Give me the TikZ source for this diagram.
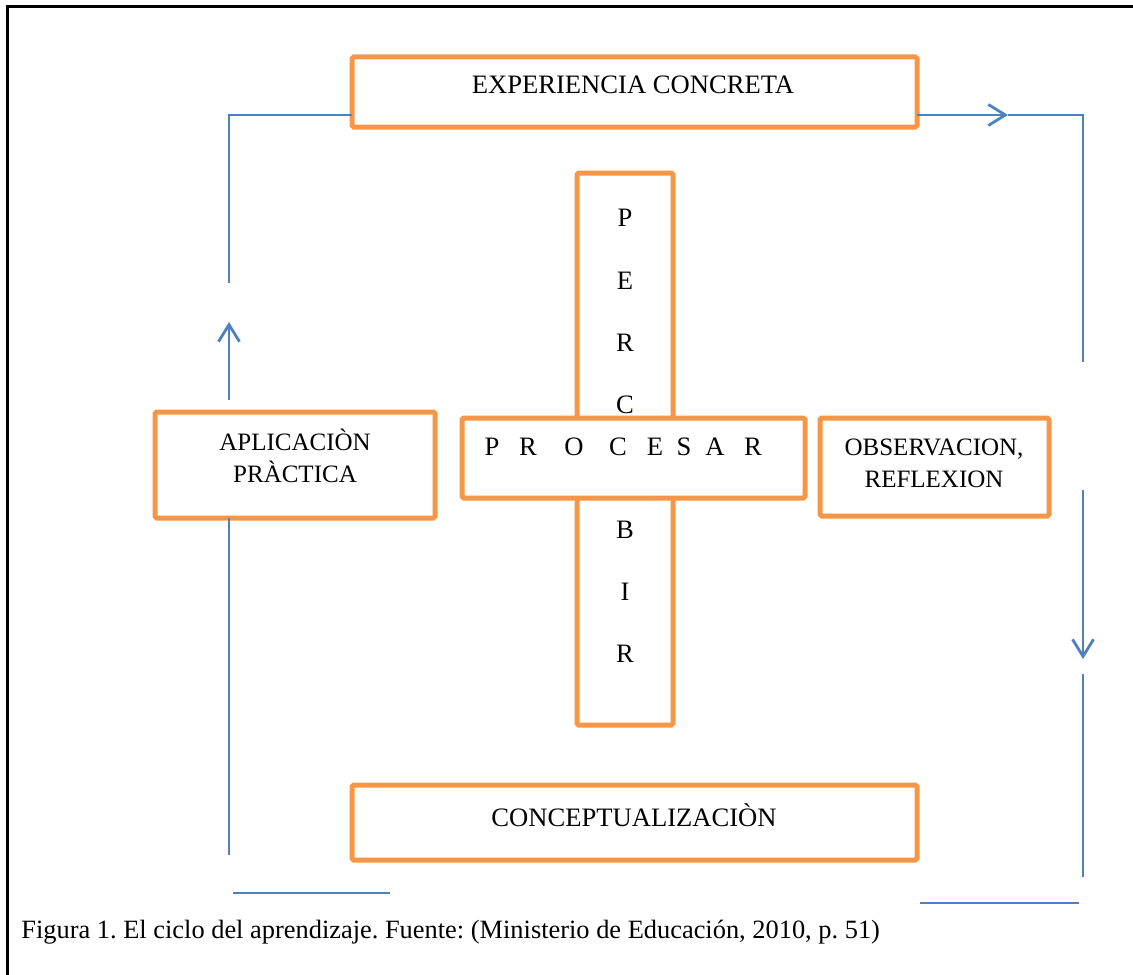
\documentclass[tikz,border=0pt]{standalone}
\usepackage{fontspec}
\setmainfont{Liberation Serif}
\usetikzlibrary{arrows.meta}
\definecolor{boxorange}{HTML}{F79646}
\definecolor{lineblue}{HTML}{4F81BD}
\tikzset{
  x=0.5pt,y=-0.5pt,
  obox/.style={draw=boxorange,line width=2.5pt,fill=white,rectangle,rounded corners=0.8pt,inner sep=0pt,outer sep=0pt},
  lbl/.style={font=\fontsize{13.3}{16}\selectfont,align=center,inner sep=0pt},
  lbltwo/.style={font=\fontsize{12.5}{16}\selectfont,align=center,inner sep=0pt},
  conn/.style={draw=lineblue,line width=1.2pt},
  arr/.style={conn,-{Straight Barb[length=8.5pt,width=10.5pt,line width=1.4pt]}},
  frame/.style={draw=black,line width=1.5pt}
}
\begin{document}
\begin{tikzpicture}
\frenchspacing
\useasboundingbox (0,0) rectangle (1133,974);
% frame
\coordinate (fbl) at (7,990);
\coordinate (ftl) at (7,7);
\coordinate (ftr) at (1150,7);
\draw[frame] (fbl) -- (ftl) -- (ftr);
% boxes
\node[obox,minimum width=282.5pt,minimum height=35pt] (exp) at (634.5,92) {};
\node[obox,minimum width=48pt,minimum height=276pt] (perc) at (625,449) {};
\node[obox,minimum width=171.5pt,minimum height=40pt] (proc) at (633.5,458) {};
\node[obox,minimum width=140pt,minimum height=53pt] (apl) at (295,465) {};
\node[obox,minimum width=114.5pt,minimum height=49pt] (obs) at (934.5,467) {};
\node[obox,minimum width=282.5pt,minimum height=37.5pt] (conc) at (634.5,822.5) {};
% texts
\node[lbl] (texp) at (633,85) {EXPERIENCIA CONCRETA};
\node[lbl] (tconc) at (634,815) {CONCEPTUALIZACIÒN};
\node[lbltwo] (tapl) at (295,456) {APLICACIÒN\\PRÀCTICA};
\node[lbltwo] (tobs) at (934,463) {OBSERVACION,\\REFLEXION};
\foreach \l/\yy [count=\i] in {P/218,E/281,R/343,C/405,B/530,I/592,R/654}
  \node[lbl] (pc\i) at (625,\yy) {\l};
\foreach \l/\xx [count=\i] in {P/492,R/528,O/574,C/618,E/655,S/684,A/715,R/753}
  \node[lbl] (pr\i) at (\xx,447) {\l};
% connectors
\coordinate (a1) at (1008,115);
\coordinate (a2) at (1083,115);
\coordinate (a3) at (1083,362);
\coordinate (b1) at (1083,490);
\coordinate (b2) at (1083,659);
\coordinate (b3) at (1083,674);
\coordinate (b4) at (1083,877);
\coordinate (c1) at (920,903);
\coordinate (c2) at (1079,903);
\coordinate (d1) at (233,893);
\coordinate (d2) at (390,893);
\coordinate (e1) at (229,855);
\coordinate (f1) at (229,400);
\coordinate (f2) at (229,322);
\coordinate (g1) at (229,283);
\coordinate (g2) at (229,115);
\draw[arr] (exp.east |- a1) -- (a1);
\draw[conn] (a1) -- (a2) -- (a3);
\draw[arr] (b1) -- (b2);
\draw[conn] (b3) -- (b4);
\draw[conn] (c1) -- (c2);
\draw[conn] (d1) -- (d2);
\draw[conn] (apl.south -| e1) -- (e1);
\draw[arr] (f1) -- (f2);
\draw[conn] (g1) -- (g2) -- (exp.west |- g2);
% caption
\node[font=\fontsize{13.2}{15}\selectfont,anchor=west,inner sep=0pt] (cap) at (21,932) {Figura 1. El ciclo del aprendizaje. Fuente: (Ministerio de Educación, 2010, p. 51)};
\end{tikzpicture}
\end{document}
